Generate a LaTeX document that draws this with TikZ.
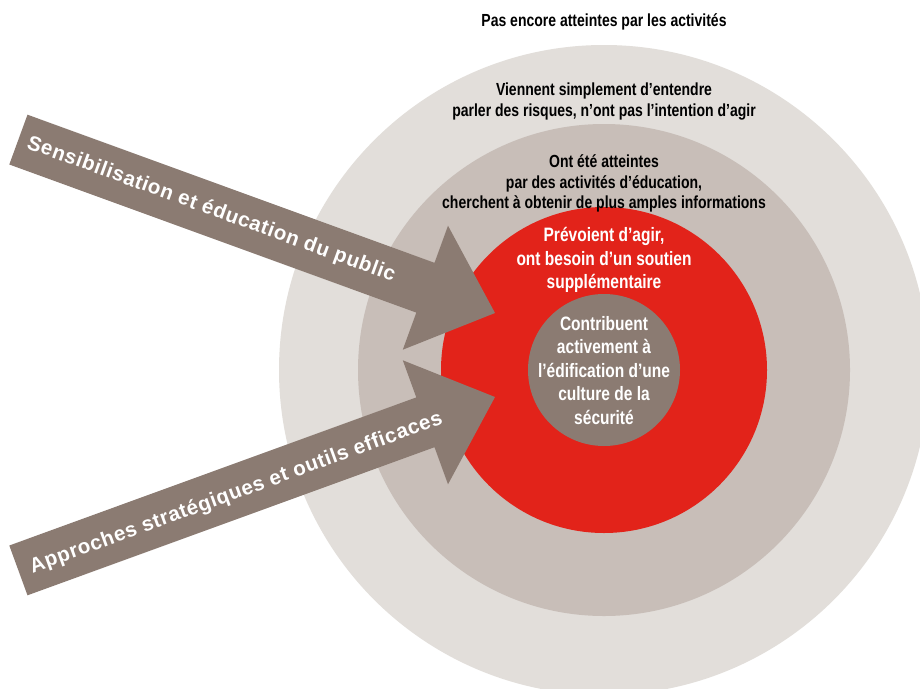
\documentclass[tikz,border=0pt]{standalone}
\usepackage{fontspec}
\setmainfont{Liberation Sans}
\newfontfamily\condfont[FakeStretch=0.8]{Liberation Sans}
\newfontfamily\trackfont[LetterSpace=3]{Liberation Sans}
\definecolor{ringout}{HTML}{E2DEDA}
\definecolor{ringmid}{HTML}{C8BEB8}
\definecolor{ringred}{HTML}{E2231A}
\definecolor{taupe}{HTML}{8B7B72}
\tikzset{
  blacktxt/.style={anchor=base, inner sep=0pt, text=black, font=\condfont\bfseries\fontsize{17.5}{21}\selectfont},
  whitetxt/.style={anchor=base, inner sep=0pt, text=white, font=\condfont\bfseries\fontsize{19.4}{23}\selectfont},
  arrowtxt/.style={inner sep=0pt, text=white, font=\trackfont\bfseries\fontsize{20.6}{25}\selectfont},
  arrowshape/.style={fill=taupe, draw=none}
}
\begin{document}
\begin{tikzpicture}[x=1pt, y=-1pt]
\useasboundingbox (0,0) rectangle (920,688);
\fill[white] (0,0) rectangle (920,688);
\begin{scope}
\clip (0,0) rectangle (920,688);
\coordinate (c) at (604,370);
\fill[ringout] (c) circle[radius=325];
\fill[ringmid] (c) circle[radius=246];
\fill[ringred] (c) circle[radius=163];
\fill[taupe] (c) circle[radius=76];
\end{scope}

% upper arrow
\coordinate (t1) at (495,313);
\fill[arrowshape] (t1) -- (448.0,225.7) -- (434.5,262.8) -- (27.5,114.7)
  -- (9.3,164.5) -- (416.3,312.6) -- (402.8,349.7) -- cycle;
\node[arrowtxt, rotate=-20] (a1) at (211.1,209.7) {Sensibilisation et éducation du public};

% lower arrow
\coordinate (t2) at (495,397);
\fill[arrowshape] (t2) -- (448.0,484.3) -- (434.5,447.2) -- (27.5,595.3)
  -- (9.3,545.5) -- (416.3,397.4) -- (402.8,360.3) -- cycle;
\node[arrowtxt, rotate=20] (a2) at (236.3,493.3) {Approches stratégiques et outils efficaces};

% black texts
\node[blacktxt] (pas) at (604,27) {Pas encore atteintes par les activités};
\node[blacktxt] (v1) at (604,95) {Viennent simplement d’entendre};
\node[blacktxt] (v2) at (604,116) {parler des risques, n’ont pas l’intention d’agir};
\node[blacktxt] (o1) at (604,167) {Ont été atteintes};
\node[blacktxt] (o2) at (604,188) {par des activités d’éducation,};
\node[blacktxt] (o3) at (604,208.5) {cherchent à obtenir de plus amples informations};

% red ring texts
\node[whitetxt] (r1) at (604,241.7) {Prévoient d’agir,};
\node[whitetxt] (r2) at (604,265) {ont besoin d’un soutien};
\node[whitetxt] (r3) at (604,288) {supplémentaire};

% inner texts
\node[whitetxt] (i1) at (604,330) {Contribuent};
\node[whitetxt] (i2) at (604,353.5) {activement à};
\node[whitetxt] (i3) at (604,377) {l’édification d’une};
\node[whitetxt] (i4) at (604,400.5) {culture de la};
\node[whitetxt] (i5) at (604,424) {sécurité};
\end{tikzpicture}
\end{document}
